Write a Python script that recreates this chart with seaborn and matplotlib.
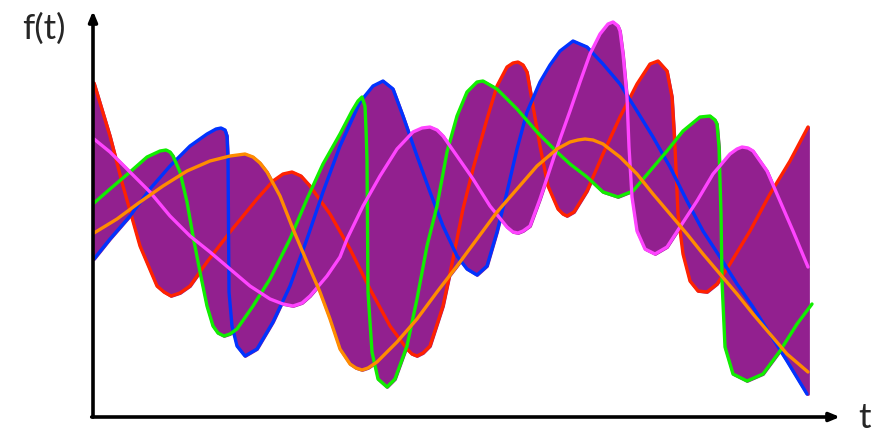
import numpy as np
import matplotlib
matplotlib.use("Agg")
import matplotlib.pyplot as plt
import seaborn as sns

sns.set_style("white")
plt.rcParams['font.family'] = ['Lato', 'DejaVu Sans']

# curves (t along the axis, f up from the axis)
red_t = [1, 17, 30, 47, 64, 71, 78, 87, 97, 114, 137, 164, 180, 190, 199, 208, 217, 237, 257, 277,
         297, 314, 319, 324, 330, 337, 350, 360, 370, 380, 394, 404, 414, 420, 425, 430, 434, 440, 447, 455,
         465, 470, 474, 481, 494, 510, 527, 544, 557, 565, 574, 579, 582, 585, 590, 597, 605, 614, 624, 637,
         657, 677, 697, 715]
red_f = [334, 281, 231, 171, 131, 125, 121, 124, 131, 155, 185, 218, 236, 243, 245, 241, 231, 203, 168, 128,
         91, 68, 63, 61, 64, 71, 111, 158, 208, 248, 298, 331, 350, 354, 355, 352, 345, 311, 271, 231,
         208, 203, 201, 205, 226, 263, 300, 333, 353, 356, 346, 320, 270, 203, 163, 136, 126, 125, 133, 153,
         186, 223, 256, 290]

blue_t = [1, 17, 37, 57, 77, 97, 114, 123, 128, 132, 134, 135, 135.5, 136, 139, 144, 152, 164, 180, 197,
          214, 230, 247, 267, 280, 290, 300, 310, 324, 337, 350, 364, 374, 384, 394, 404, 414, 424, 434, 447,
          457, 467, 480, 494, 510, 527, 544, 560, 577, 594, 610, 627, 644, 660, 677, 694, 714]
blue_f = [158, 178, 201, 228, 251, 271, 283, 288, 289, 287, 281, 258, 191, 125, 91, 71, 61, 68, 95, 131,
          178, 225, 271, 315, 331, 336, 328, 301, 261, 225, 191, 161, 148, 142, 151, 185, 225, 268, 305, 335,
          352, 366, 376, 370, 353, 333, 306, 280, 250, 216, 186, 160, 133, 110, 83, 56, 23]

green_t = [1, 17, 37, 54, 67, 73, 77, 80, 87, 94, 100, 107, 114, 120, 125, 131, 137, 144, 160, 177,
           197, 214, 230, 247, 259, 265, 269, 272, 273, 274, 274.5, 275, 279, 285, 294, 302, 314, 324, 334, 344,
           354, 364, 374, 384, 390, 404, 424, 444, 464, 477, 494, 510, 525, 540, 557, 574, 590, 607, 617, 622,
           624, 626, 628, 629, 632, 640, 654, 670, 687, 704, 719]
green_f = [214, 228, 245, 260, 266, 267, 265, 261, 245, 215, 181, 145, 111, 91, 84, 81, 83, 88, 111, 138,
           178, 218, 253, 283, 306, 316, 320, 311, 288, 258, 191, 125, 65, 38, 30, 38, 71, 118, 171, 211,
           265, 301, 325, 335, 336, 328, 308, 285, 265, 253, 240, 225, 220, 226, 246, 266, 286, 300, 301, 297,
           293, 270, 203, 136, 70, 43, 36, 43, 66, 93, 113]

magenta_t = [1, 17, 37, 57, 77, 97, 117, 137, 157, 177, 190, 200, 209, 217, 234, 247, 254, 270, 287, 304,
             320, 329, 337, 344, 350, 364, 380, 397, 414, 420, 425, 430, 437, 447, 457, 467, 477, 487, 497, 507,
             515, 520, 525, 527, 530, 534, 536, 539, 544, 552, 562, 574, 587, 604, 620, 637, 644, 649, 655, 660,
             674, 687, 700, 715]
magenta_f = [278, 265, 245, 225, 201, 181, 165, 148, 131, 118, 113, 111, 114, 121, 141, 160, 178, 211, 241, 268,
             285, 289, 290, 287, 281, 261, 238, 211, 190, 185, 184, 186, 191, 218, 248, 278, 306, 335, 363, 383,
             393, 395, 391, 386, 363, 320, 270, 220, 186, 168, 163, 170, 190, 216, 243, 263, 268, 270, 269, 266,
             246, 216, 186, 150]

orange_t = [1, 24, 47, 70, 94, 117, 137, 152, 160, 167, 174, 187, 200, 214, 227, 237, 247, 257, 263, 269,
            275, 284, 304, 324, 344, 364, 384, 404, 424, 444, 464, 477, 485, 492, 500, 510, 527, 544, 560, 577,
            594, 610, 627, 644, 660, 677, 694, 715]
orange_f = [184, 198, 215, 231, 246, 256, 261, 263, 260, 254, 245, 221, 188, 155, 125, 98, 68, 53, 49, 47,
            49, 55, 75, 98, 125, 151, 178, 205, 228, 251, 268, 275, 277, 278, 277, 273, 260, 243, 223, 203,
            183, 163, 143, 123, 103, 83, 63, 45]

curves = [
    (red_t, red_f, "#ff2200"),
    (blue_t, blue_f, "#0033ff"),
    (green_t, green_f, "#11ee00"),
    (magenta_t, magenta_f, "#ff44ff"),
    (orange_t, orange_f, "#ff8c00"),
]

fig = plt.figure(figsize=(8.86, 4.35), dpi=100)
ax = fig.add_axes([0, 0, 1, 1])
ax.set_xlim(-93, 793)
ax.set_ylim(-17, 418)
ax.axis("off")

# purple band between the lowest and highest curve
knots = np.concatenate([np.asarray(c[0], float) for c in curves])
grid = np.unique(np.concatenate([knots, np.linspace(1, 715, 1500)]))
grid = grid[(grid >= 1) & (grid <= 715)]
stack = np.vstack([np.interp(grid, np.asarray(c[0], float), np.asarray(c[1], float)) for c in curves])
lo = stack.min(axis=0)
hi = stack.max(axis=0)
ax.fill_between(grid, lo, hi, color="#92208f", edgecolor="#92208f", linewidth=2, zorder=1)

for t, f, col in curves:
    sns.lineplot(x=t, y=f, color=col, linewidth=2.4, estimator=None, sort=False, ax=ax, zorder=2)

# arrowed axes
arrow = dict(arrowstyle="-|>,head_length=0.6,head_width=0.25", color="black", lw=2.6,
             shrinkA=0, shrinkB=0)
ax.annotate("", xy=(0, 406), xytext=(0, 0), arrowprops=arrow, zorder=3)
ax.annotate("", xy=(747, 0), xytext=(-1.3, 0), arrowprops=arrow, zorder=3)

ax.text(-49, 389, "f(t)", fontsize=25, ha="center", va="center")
ax.text(772, 0, "t", fontsize=25, ha="center", va="center")

fig.savefig("out.png", dpi=100)
